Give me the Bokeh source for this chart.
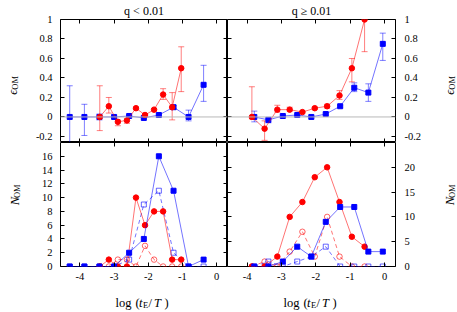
import math
from bokeh.plotting import figure
from bokeh.models import (Range1d, LinearAxis, FixedTicker, ColumnDataSource, Whisker,
                          TeeHead, Span)
from bokeh.core.properties import value
from bokeh.layouts import column, row
from bokeh.embed import file_html
from bokeh.resources import INLINE

# ---------------- data ----------------
# bin centres, log(tE/T)
x_blue_lo = [-4.30, -3.87, -3.43, -3.00, -2.56, -2.13, -1.69, -1.26, -0.82, -0.38]
x_red_lo = [-3.42, -3.155, -2.89, -2.625, -2.36, -2.095, -1.83, -1.565, -1.30, -1.035]
x_blue_hi = [-3.79, -3.38, -2.96, -2.54, -2.13, -1.71, -1.29, -0.88, -0.47, -0.05]
x_red_hi = [-3.86, -3.49, -3.12, -2.76, -2.39, -2.03, -1.67, -1.31, -0.95, -0.58]

# epsilon_OM, q < 0.01
eps_blue_lo = [0.0, 0.0, 0.0, 0.0, 0.01, -0.01, 0.02, 0.10, 0.0, 0.33]
eps_blue_lo_up = [0.32, 0.13, 0.03, 0.01, 0.02, 0.0, 0.03, 0.12, 0.07, 0.53]
eps_blue_lo_dn = [-0.32, -0.19, -0.03, -0.01, 0.0, -0.02, 0.01, 0.08, -0.04, 0.16]
eps_red_lo = [0.0, 0.11, -0.05, -0.035, 0.09, 0.02, 0.075, 0.23, 0.10, 0.50]
eps_red_lo_up = [0.32, 0.20, -0.03, -0.02, 0.10, 0.03, 0.085, 0.29, 0.25, 0.72]
eps_red_lo_dn = [-0.14, 0.04, -0.09, -0.065, 0.08, 0.01, 0.065, 0.18, -0.03, 0.26]

# epsilon_OM, q >= 0.01
eps_blue_hi = [0.0, -0.03, 0.01, 0.02, 0.0, 0.03, 0.11, 0.30, 0.25, 0.75]
eps_blue_hi_up = [0.06, -0.01, 0.02, 0.03, 0.01, 0.04, 0.12, 0.35, 0.34, 0.86]
eps_blue_hi_dn = [-0.05, -0.06, 0.0, 0.01, -0.01, 0.02, 0.10, 0.26, 0.16, 0.58]
eps_red_hi = [0.0, -0.12, 0.075, 0.075, 0.05, 0.09, 0.11, 0.22, 0.50, 1.0]
eps_red_hi_up = [0.31, -0.04, 0.12, 0.10, 0.06, 0.10, 0.13, 0.27, 0.60, 1.0]
eps_red_hi_dn = [-0.02, -0.24, 0.05, 0.06, 0.04, 0.08, 0.09, 0.18, 0.36, 0.67]

# N_OM, q < 0.01
n_blue_lo = [0, 0, 0, 0, 2, 4, 16, 11, 0, 1]
n_blue_lo_open = [0, 0, 0, 0, 1, 9, 11, 2, 0, 0]
n_red_lo = [0, 1, 0, 0, 10, 6, 8, 8, 1, 1]
n_red_lo_open = [0, 0, 1, 1, 0, 3, 1, 0, 0, 0]

# N_OM, q >= 0.01
n_blue_hi = [0, 0, 1, 4, 2, 9, 12, 12, 3, 3]
n_blue_hi_open = [0, 1, 0, 1, 2, 4, 0, 0, 0, 0]
n_red_hi = [0, 0, 2, 10, 13, 18, 20, 13, 6, 4]
n_red_hi_open = [0, 1, 0, 3, 7, 2, 10, 2, 0, 0]

x_ticks = [-4, -3, -2, -1, 0]
x_tick_labels = ["-4", "-3", "-2", "-1", "0"]
eps_ticks = [-0.2, 0, 0.2, 0.4, 0.6, 0.8, 1.0]
eps_tick_labels = ["-0.2", "0", "0.2", "0.4", "0.6", "0.8", "1"]
nlo_ticks = [0, 2, 4, 6, 8, 10, 12, 14, 16]
nlo_tick_labels = ["0", "2", "4", "6", "8", "10", "12", "14", "16"]
nhi_ticks = [0, 5, 10, 15, 20]
nhi_tick_labels = ["0", "5", "10", "15", "20"]
titles = ["q < 0.01", "q \u2265 0.01"]

# ---------------- style ----------------
RED = "#ff0000"
BLUE = "#0000ff"
FONT = "Liberation Serif"
TICK_FS = "10.5px"
XR = (-4.57, 0.32)
EPS_R = (-0.262, 1.0)


def make_fig(w, h, yr, mb):
    p = figure(width=w, height=h, x_range=Range1d(*XR), y_range=Range1d(*yr),
               x_axis_type=None, y_axis_type=None, output_backend="svg",
               toolbar_location=None, min_border_left=mb[0], min_border_right=mb[1],
               min_border_top=mb[2], min_border_bottom=mb[3])
    p.outline_line_color = "black"
    p.outline_line_width = 1
    p.outline_line_alpha = 1
    p.background_fill_color = "white"
    p.border_fill_color = "white"
    return p


def text_fig(w, h):
    p = figure(width=w, height=h, x_range=Range1d(0, w), y_range=Range1d(0, h),
               x_axis_type=None, y_axis_type=None, output_backend="svg",
               toolbar_location=None, min_border=0)
    p.outline_line_color = None
    p.background_fill_color = "white"
    p.border_fill_color = "white"
    return p


def add_axis(p, side, ticks, labels, show, standoff=8, title=None):
    ax = LinearAxis(ticker=FixedTicker(ticks=ticks))
    ax.axis_line_color = None
    ax.major_tick_in = 4
    ax.major_tick_out = 0
    ax.minor_tick_in = 0
    ax.minor_tick_out = 0
    ax.major_tick_line_color = "black"
    ax.major_label_text_font = FONT
    ax.major_label_text_font_size = TICK_FS
    ax.major_label_text_color = "black"
    if show:
        ax.major_label_overrides = {t: l for t, l in zip(ticks, labels)}
        ax.major_label_standoff = standoff
    else:
        ax.major_label_overrides = {t: "" for t in ticks}
        ax.major_label_standoff = 0
    if title is not None:
        ax.axis_label = title
        ax.axis_label_text_font = FONT
        ax.axis_label_text_font_size = "12px"
        ax.axis_label_text_font_style = "normal"
        ax.axis_label_text_color = "black"
        ax.axis_label_standoff = 2
    p.add_layout(ax, side)


def put(p, x, y, txt, size, style="normal", angle=0.0):
    p.text(x=[x], y=[y], text=[txt], text_font=value(FONT),
           text_font_style=value(style), text_font_size=value(f"{size}px"),
           text_color="black", angle=angle, text_align="left",
           text_baseline="alphabetic")


def series(p, xs, ys, color, open_=False):
    src = ColumnDataSource(dict(x=xs, y=ys))
    p.line("x", "y", source=src, line_color=color, line_alpha=0.55, line_width=1,
           line_dash="4 3" if open_ else "solid")
    marker = "square" if color == BLUE else "circle"
    size = 5 if color == BLUE else 5.5
    if open_:
        p.scatter("x", "y", source=src, marker=marker, size=size, fill_color=None,
                  line_color=color, line_alpha=0.6, line_width=1)
    else:
        p.scatter("x", "y", source=src, marker=marker, size=size, fill_color=color,
                  line_color=color)


def err_series(p, xs, ys, up, dn, color):
    src = ColumnDataSource(dict(x=xs, y=ys, up=up, dn=dn))
    wh = Whisker(base="x", upper="up", lower="dn", source=src, dimension="height",
                 line_color=color, line_alpha=0.5, line_width=1,
                 upper_head=TeeHead(size=6, line_color=color, line_alpha=0.5),
                 lower_head=TeeHead(size=6, line_color=color, line_alpha=0.5))
    p.add_layout(wh)
    series(p, xs, ys, color)


# ---------------- top-left ----------------
tl = make_fig(197, 142, EPS_R, (30, 0, 18, 0))
tl.add_layout(Span(location=0, dimension="width", line_color="#b8b8b8", line_width=1))
err_series(tl, x_blue_lo, eps_blue_lo, eps_blue_lo_up, eps_blue_lo_dn, BLUE)
err_series(tl, x_red_lo, eps_red_lo, eps_red_lo_up, eps_red_lo_dn, RED)
add_axis(tl, "left", eps_ticks, eps_tick_labels, True)
add_axis(tl, "right", eps_ticks, eps_tick_labels, False)
add_axis(tl, "below", x_ticks, x_tick_labels, False)
add_axis(tl, "above", x_ticks, x_tick_labels, False, title=titles[0])

# ---------------- top-right ----------------
tr = make_fig(198, 142, EPS_R, (0, 30, 18, 0))
tr.add_layout(Span(location=0, dimension="width", line_color="#b8b8b8", line_width=1))
err_series(tr, x_blue_hi, eps_blue_hi, eps_blue_hi_up, eps_blue_hi_dn, BLUE)
err_series(tr, x_red_hi, eps_red_hi, eps_red_hi_up, eps_red_hi_dn, RED)
add_axis(tr, "left", eps_ticks, eps_tick_labels, False)
add_axis(tr, "right", eps_ticks, eps_tick_labels, True, 9)
add_axis(tr, "below", x_ticks, x_tick_labels, False)
add_axis(tr, "above", x_ticks, x_tick_labels, False, title=titles[1])

# ---------------- bottom-left ----------------
bl = make_fig(197, 144, (0, 18), (30, 0, 0, 20))
series(bl, x_red_lo, n_red_lo_open, RED, True)
series(bl, x_blue_lo, n_blue_lo_open, BLUE, True)
series(bl, x_red_lo, n_red_lo, RED)
series(bl, x_blue_lo, n_blue_lo, BLUE)
add_axis(bl, "left", nlo_ticks, nlo_tick_labels, True)
add_axis(bl, "right", nlo_ticks, nlo_tick_labels, False)
add_axis(bl, "below", x_ticks, x_tick_labels, True, 6)
add_axis(bl, "above", x_ticks, x_tick_labels, False)

# ---------------- bottom-right ----------------
br = make_fig(198, 144, (0, 25), (0, 30, 0, 20))
series(br, x_red_hi, n_red_hi_open, RED, True)
series(br, x_blue_hi, n_blue_hi_open, BLUE, True)
series(br, x_red_hi, n_red_hi, RED)
series(br, x_blue_hi, n_blue_hi, BLUE)
add_axis(br, "left", nhi_ticks, nhi_tick_labels, False)
add_axis(br, "right", nhi_ticks, nhi_tick_labels, True, 9)
add_axis(br, "below", x_ticks, x_tick_labels, True, 6)
add_axis(br, "above", x_ticks, x_tick_labels, False)

# ---------------- text strips ----------------
HALF_PI = math.pi / 2
W = 456

# y-axis label strips (top row: window y 0..142, bottom row: 142..286)
ls_top = text_fig(30, 142)
put(ls_top, 12, 55, "\u03f5", 12.5, "italic", HALF_PI)
put(ls_top, 14.5, 61, "OM", 8.5, "normal", HALF_PI)
rs_top = text_fig(31, 142)
put(rs_top, 24, 55, "\u03f5", 12.5, "italic", HALF_PI)
put(rs_top, 26.5, 61, "OM", 8.5, "normal", HALF_PI)

ls_bot = text_fig(30, 144)
put(ls_bot, 14, 71, "N", 12.5, "italic", HALF_PI)
put(ls_bot, 16.5, 79.5, "OM", 8.5, "normal", HALF_PI)
rs_bot = text_fig(31, 144)
put(rs_bot, 24, 71, "N", 12.5, "italic", HALF_PI)
put(rs_bot, 26.5, 79.5, "OM", 8.5, "normal", HALF_PI)

# x-axis label strip (window y 286..310)
xl = text_fig(W, 24)
for x0 in (115, 283):
    put(xl, x0, 8, "log", 12.5)
    put(xl, x0 + 20, 8, "(", 12.5)
    put(xl, x0 + 23.5, 8, "t", 12.5, "italic")
    put(xl, x0 + 27.5, 6, "E", 8.5)
    put(xl, x0 + 33, 8, "/", 12.5)
    put(xl, x0 + 38.5, 8, "T", 12.5, "italic")
    put(xl, x0 + 49, 8, ")", 12.5)

layout = column(row(ls_top, tl, tr, rs_top),
                row(ls_bot, bl, br, rs_bot),
                xl)
open("out.html", "w").write(file_html(layout, INLINE))
